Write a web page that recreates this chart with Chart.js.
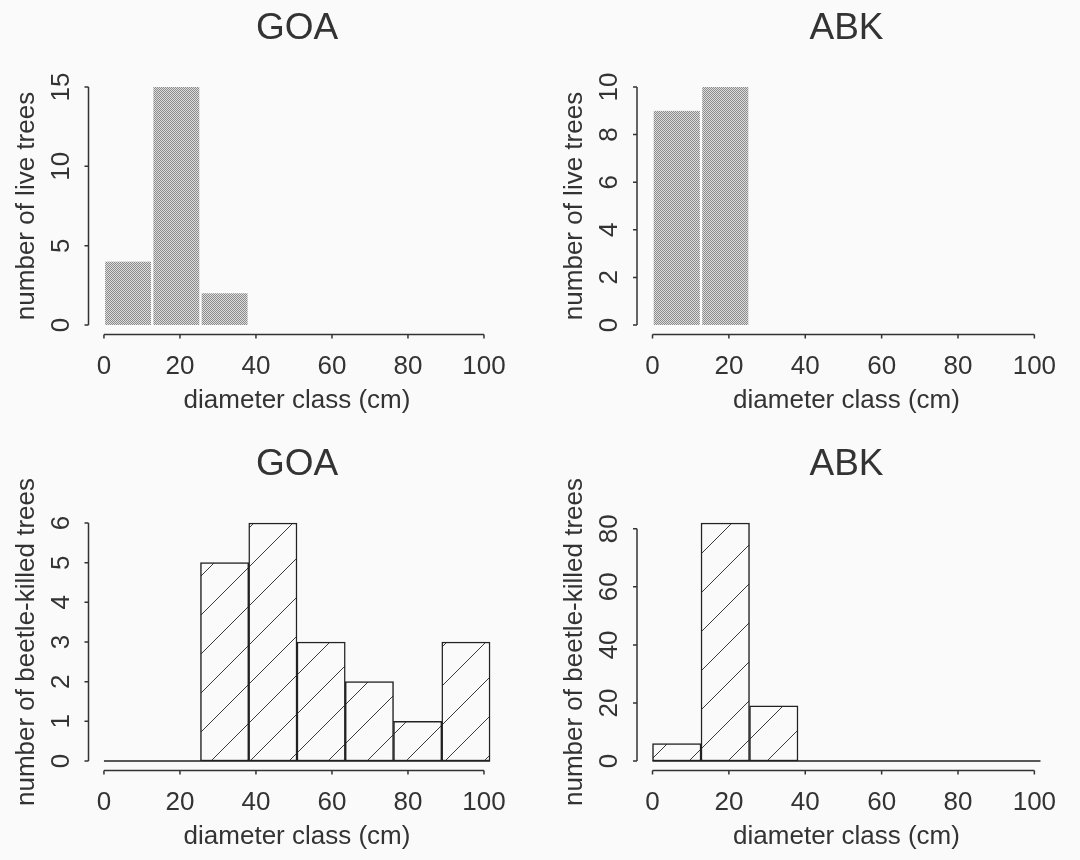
<!DOCTYPE html>
<html>
<head>
<meta charset="utf-8">
<script src="https://cdn.jsdelivr.net/npm/chart.js@4.4.0/dist/chart.umd.min.js"></script>
<style>
  html, body { margin: 0; padding: 0; }
  body { width: 1080px; height: 860px; position: relative; overflow: hidden; background: #fafafa; }
  canvas { position: absolute; }
</style>
</head>
<body>
<canvas id="p0" width="540" height="430" style="left:0px;top:0px"></canvas>
<canvas id="p1" width="540" height="430" style="left:540px;top:0px"></canvas>
<canvas id="p2" width="540" height="430" style="left:0px;top:430px"></canvas>
<canvas id="p3" width="540" height="430" style="left:540px;top:430px"></canvas>
<script>
// ---------------- data ----------------
const binEdges = [0, 12.7, 25.4, 38.1, 50.8, 63.5, 76.2, 88.9, 101.6];   // diameter classes (cm)
const xTickValues = [0, 20, 40, 60, 80, 100];
const xTickLabels = ['0', '20', '40', '60', '80', '100'];
const panelTitles = ['GOA', 'ABK', 'GOA', 'ABK'];

const liveGOA = [4, 15, 2, 0, 0, 0, 0, 0];
const liveABK = [9, 10, 0, 0, 0, 0, 0, 0];
const killedGOA = [0, 0, 5, 6, 3, 2, 1, 3];
const killedABK = [6, 82, 19, 0, 0, 0, 0, 0];

const yTicksLiveGOA = [0, 5, 10, 15];
const yTicksLiveABK = [0, 2, 4, 6, 8, 10];
const yTicksKilledGOA = [0, 1, 2, 3, 4, 5, 6];
const yTicksKilledABK = [0, 20, 40, 60, 80];

const xAxisTitle = 'diameter class (cm)';
const yTitleLive = 'number of live trees';
const yTitleKilled = 'number of beetle-killed trees';

// ---------------- helpers ----------------
const FONT = "'Liberation Sans', Arial, Helvetica, sans-serif";
const INK = '#333333';
const BG = '#fafafa';

function binCenters(edges) {
  const c = [];
  for (let i = 0; i < edges.length - 1; i++) c.push((edges[i] + edges[i + 1]) / 2);
  return c;
}
const centers = binCenters(binEdges);

function grayPattern(ctx) {
  const t = document.createElement('canvas');
  t.width = 2; t.height = 2;
  const g = t.getContext('2d');
  g.fillStyle = '#dedede'; g.fillRect(0, 0, 2, 2);
  g.fillStyle = '#8a8a8a'; g.fillRect(0, 0, 1, 1); g.fillRect(1, 1, 1, 1);
  return ctx.createPattern(t, 'repeat');
}

function hatchPattern(ctx, phase) {
  const s = 39;
  const t = document.createElement('canvas');
  t.width = s; t.height = s;
  const g = t.getContext('2d');
  g.fillStyle = BG; g.fillRect(0, 0, s, s);
  g.strokeStyle = '#3a3a3a'; g.lineWidth = 1;
  g.beginPath();
  g.moveTo(-2, s + 2); g.lineTo(s + 2, -2);
  g.moveTo(-2, 2); g.lineTo(2, -2);
  g.moveTo(s - 2, s + 2); g.lineTo(s + 2, s - 2);
  g.stroke();
  const p = ctx.createPattern(t, 'repeat');
  p.setTransform(new DOMMatrix().translate(phase, 0));
  return p;
}

const rAxesPlugin = {
  id: 'rAxes',
  afterDraw(chart, args, o) {
    const ctx = chart.ctx, xs = chart.scales.x, ys = chart.scales.y, a = chart.chartArea;
    ctx.save();
    ctx.strokeStyle = INK; ctx.fillStyle = INK; ctx.lineWidth = 1.5;
    // x axis
    const yAx = a.bottom;
    ctx.beginPath();
    ctx.moveTo(xs.getPixelForValue(o.xTicks[0]), yAx);
    ctx.lineTo(xs.getPixelForValue(o.xTicks[o.xTicks.length - 1]), yAx);
    o.xTicks.forEach(v => { const p = xs.getPixelForValue(v); ctx.moveTo(p, yAx); ctx.lineTo(p, yAx + 4); });
    // y axis
    const xAx = a.left;
    ctx.moveTo(xAx, ys.getPixelForValue(o.yTicks[0]));
    ctx.lineTo(xAx, ys.getPixelForValue(o.yTicks[o.yTicks.length - 1]));
    o.yTicks.forEach(v => { const p = ys.getPixelForValue(v); ctx.moveTo(xAx, p); ctx.lineTo(xAx - 4, p); });
    ctx.stroke();

    // x tick labels
    ctx.font = '26px ' + FONT;
    ctx.textAlign = 'center'; ctx.textBaseline = 'alphabetic';
    o.xTicks.forEach((v, i) => ctx.fillText(o.xLabels[i], xs.getPixelForValue(v), yAx + 39));
    // y tick labels (rotated, R style)
    o.yTicks.forEach(v => {
      ctx.save();
      ctx.translate(xAx - 20, ys.getPixelForValue(v));
      ctx.rotate(-Math.PI / 2);
      ctx.fillText(String(v), 0, 0);
      ctx.restore();
    });
    // axis titles
    const cx = (a.left + a.right) / 2, cy = (a.top + a.bottom) / 2;
    ctx.fillText(o.xTitle, cx, yAx + 73);
    ctx.save();
    ctx.translate(xAx - 55, cy);
    ctx.rotate(-Math.PI / 2);
    ctx.fillText(o.yTitle, 0, 0);
    ctx.restore();
    // panel title
    ctx.font = '37px ' + FONT;
    ctx.fillText(o.title, cx, a.top - 39);
    ctx.restore();
  }
};

// ---------------- panels ----------------
const panels = [
  { id: 'p0', counts: liveGOA, yTicks: yTicksLiveGOA, yTitle: yTitleLive, title: panelTitles[0], kind: 'live',
    pad: { left: 88.5, right: 34.5, top: 77.5, bottom: 95.5 } },
  { id: 'p1', counts: liveABK, yTicks: yTicksLiveABK, yTitle: yTitleLive, title: panelTitles[1], kind: 'live',
    pad: { left: 97, right: 24, top: 77.5, bottom: 95.5 } },
  { id: 'p2', counts: killedGOA, yTicks: yTicksKilledGOA, yTitle: yTitleKilled, title: panelTitles[2], kind: 'killed', phase: 35,
    pad: { left: 88.5, right: 34.5, top: 83.5, bottom: 89.5 } },
  { id: 'p3', counts: killedABK, yTicks: yTicksKilledABK, yTitle: yTitleKilled, title: panelTitles[3], kind: 'killed', phase: 12,
    pad: { left: 97, right: 24, top: 83.5, bottom: 89.5 } }
];

const xMin = binEdges[0], xMax = binEdges[binEdges.length - 1];
const xExt = (xMax - xMin) * 0.04;

panels.forEach(pn => {
  const canvas = document.getElementById(pn.id);
  const ctx = canvas.getContext('2d');
  const yTop = Math.max(...pn.counts);
  const yExt = yTop * 0.04;
  const barData = centers.map((c, i) => ({ x: c, y: pn.counts[i] }));
  const datasets = [];
  if (pn.kind === 'live') {
    datasets.push({
      type: 'bar', data: barData,
      backgroundColor: grayPattern(ctx),
      borderColor: 'rgba(0,0,0,0)',
      borderWidth: { left: 1.5, right: 1.5, top: 0, bottom: 0 },
      borderSkipped: false,
      barThickness: 'flex', barPercentage: 1, categoryPercentage: 1
    });
  } else {
    datasets.push({
      type: 'bar', data: barData,
      backgroundColor: hatchPattern(ctx, pn.phase),
      borderColor: '#222',
      borderWidth: 1.5,
      borderSkipped: false,
      barThickness: 'flex', barPercentage: 1, categoryPercentage: 1
    });
    // zero-count classes drawn as the baseline, as R's hist does
    datasets.push({
      type: 'line',
      data: [{ x: xMin, y: 0 }, { x: xMax, y: 0 }],
      borderColor: '#222', borderWidth: 1.5, pointRadius: 0, fill: false
    });
  }
  new Chart(ctx, {
    type: 'bar',
    data: { datasets },
    options: {
      responsive: false, animation: false, devicePixelRatio: 1,
      layout: { padding: pn.pad },
      plugins: {
        legend: { display: false }, tooltip: { enabled: false }, title: { display: false },
        rAxes: { xTicks: xTickValues, xLabels: xTickLabels, yTicks: pn.yTicks,
                 xTitle: xAxisTitle, yTitle: pn.yTitle, title: pn.title }
      },
      scales: {
        x: { type: 'linear', display: false, offset: false, bounds: 'data',
             min: xMin - xExt, max: xMax + xExt,
             afterBuildTicks: s => { s.ticks = xTickValues.map(v => ({ value: v })); } },
        y: { type: 'linear', display: false, bounds: 'data', beginAtZero: false,
             min: -yExt, max: yTop + yExt,
             afterBuildTicks: s => { s.ticks = pn.yTicks.map(v => ({ value: v })); } }
      }
    },
    plugins: [rAxesPlugin]
  });
});
</script>
</body>
</html>
